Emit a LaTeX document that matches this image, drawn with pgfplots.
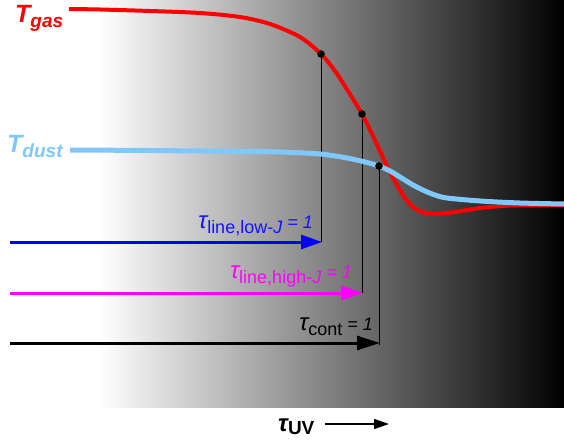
\documentclass[border=0pt]{standalone}
\usepackage{pgfplots}
\pgfplotsset{compat=1.18}
\usepackage{fontspec}
\setmainfont{Liberation Sans}
\usetikzlibrary{arrows.meta}
\definecolor{dustc}{RGB}{128,200,250}
\definecolor{labblue}{RGB}{20,20,255}
\definecolor{mag}{RGB}{255,0,255}
\begin{document}
\begin{tikzpicture}
\begin{axis}[width=564pt,height=441pt,scale only axis,hide axis,
  xmin=0,xmax=564,ymin=0,ymax=441,y dir=reverse,clip mode=individual]
\path (axis cs:0,0) rectangle (axis cs:564,441);
\fill[left color=white,right color=black] (axis cs:99,0) rectangle (axis cs:564,407);
% vertical drop lines
\addplot[black, line width=1pt] coordinates {(321,54)(321,242)};
\addplot[black, line width=1pt] coordinates {(362,114)(362,293)};
\addplot[black, line width=1pt] coordinates {(379,166)(379,345)};
% T gas
\addplot[red, line width=4pt, smooth] coordinates {
(69,9)(100,9.5)(150,11)(200,13)(240,17)(270,24)(300,37)(321,54)(335,71)(348,91)(362,114)(373,136)(385,162)(392,176)(398,187)(405,198)(413,207)(422,212)(430,213.5)(440,213.5)(455,212)(480,208)(510,205.5)(540,205)(564,205.5)};
% T dust
\addplot[dustc, line width=5pt, smooth] coordinates {
(70,150)(150,150.5)(250,151.5)(280,152)(320,154)(347,158)(365,162)(379,166)(390,171)(400,177)(413,185)(425,191)(435,195)(447,198)(480,201)(520,203)(564,204)};
% dots
\addplot[only marks, mark=*, mark size=3.5pt, black] coordinates {(321,54)(362,114)(379,166)};
% arrows
\addplot[blue, line width=3pt, -{Triangle[length=21pt,width=14pt]}] coordinates {(10,242)(322,242)};
\addplot[mag, line width=3pt, -{Triangle[length=22pt,width=14pt]}] coordinates {(10,293)(363,293)};
\addplot[black, line width=3pt, -{Triangle[length=23pt,width=14pt]}] coordinates {(10,343)(380,343)};
\addplot[black, line width=1.5pt, -{Triangle[length=15pt,width=10pt]}] coordinates {(325,424)(389,424)};
% labels
\node[anchor=base west, inner sep=0, text=red] at (axis cs:15,23)
  {\fontsize{25}{25}\selectfont\bfseries\itshape T\raisebox{-5pt}{\fontsize{19}{19}\selectfont gas}};
\node[anchor=base west, inner sep=0, text=dustc] at (axis cs:7,152)
  {\fontsize{25}{25}\selectfont\bfseries\itshape T\raisebox{-5pt}{\fontsize{19}{19}\selectfont dust}};
\node[anchor=base east, inner sep=0, text=labblue] at (axis cs:313,228)
  {\fontsize{24}{24}\selectfont\itshape τ\fontsize{18}{18}\selectfont\raisebox{-5pt}{\upshape line,low-\itshape J} = 1};
\node[anchor=base east, inner sep=0, text=mag] at (axis cs:352,278)
  {\fontsize{24}{24}\selectfont\itshape τ\fontsize{18}{18}\selectfont\raisebox{-5pt}{\upshape line,high-\itshape J} = 1};
\node[anchor=base east, inner sep=0, text=black] at (axis cs:373,330)
  {\fontsize{24}{24}\selectfont\itshape τ\fontsize{18}{18}\selectfont\raisebox{-5pt}{\upshape cont} = 1};
\node[anchor=base west, inner sep=0, text=black] at (axis cs:278,431)
  {\fontsize{24}{24}\selectfont\bfseries\itshape τ\fontsize{19}{19}\selectfont\raisebox{-3pt}{\upshape UV}};
\end{axis}
\end{tikzpicture}
\end{document}
